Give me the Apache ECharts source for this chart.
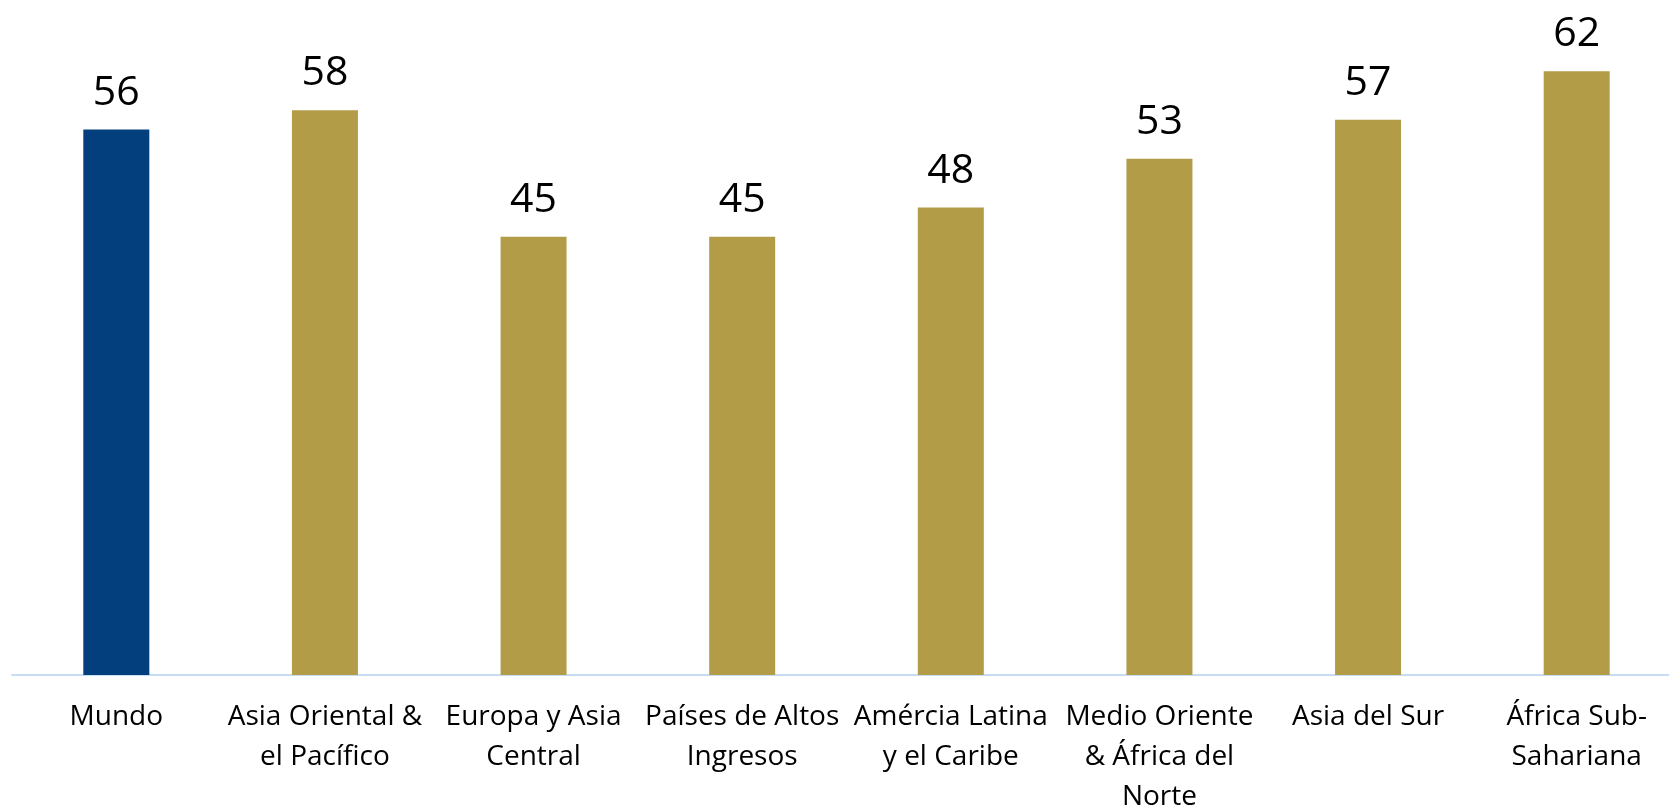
<!DOCTYPE html>
<html>
<head>
<meta charset="utf-8">
<script src="https://cdn.jsdelivr.net/npm/echarts@6/dist/echarts.min.js"></script>
<style>
html,body{margin:0;padding:0;background:#fff;}
#chart{width:1669px;height:807px;}
</style>
</head>
<body>
<div id="chart"></div>
<script>
const categories = [
  "Mundo",
  "Asia Oriental &\nel Pacífico",
  "Europa y Asia\nCentral",
  "Países de Altos\nIngresos",
  "Amércia Latina\ny el Caribe",
  "Medio Oriente\n& África del\nNorte",
  "Asia del Sur",
  "África Sub-\nSahariana"
];
const values = [56, 58, 45, 45, 48, 53, 57, 62];
const highlightIndex = 0;

const navy = "#023f7c";
const gold = "#b39c48";

const chart = echarts.init(document.getElementById("chart"));
chart.setOption({
  animation: false,
  backgroundColor: "#ffffff",
  grid: { left: 12, right: -12, top: 3, bottom: 132, containLabel: false, outerBoundsMode: "none" },
  xAxis: {
    type: "category",
    data: categories,
    axisLine: { show: true, lineStyle: { color: "#c6ddf3", width: 2 } },
    axisTick: { show: false },
    axisLabel: {
      interval: 0,
      margin: 22,
      color: "#000",
      fontFamily: "Open Sans",
      fontSize: 28,
      lineHeight: 40,
      align: "center"
    }
  },
  yAxis: {
    type: "value",
    min: 0,
    max: 69,
    show: false,
    splitLine: { show: false }
  },
  series: [{
    type: "bar",
    barWidth: 66,
    data: values.map((v, i) => ({
      value: v,
      itemStyle: { color: i === highlightIndex ? navy : gold }
    })),
    label: {
      show: true,
      position: "top",
      distance: 16,
      color: "#000",
      fontFamily: "Open Sans",
      fontSize: 41
    }
  }]
});
</script>
</body>
</html>
